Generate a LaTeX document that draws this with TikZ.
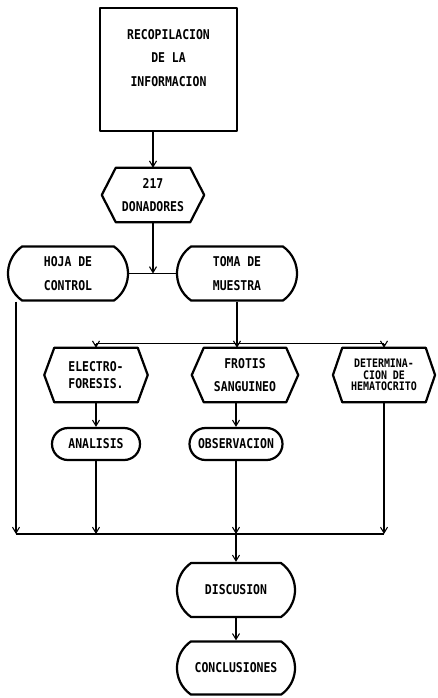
\documentclass[tikz,border=0pt]{standalone}
\usepackage{fontspec}
\usepackage{tikz}
\usetikzlibrary{shapes.misc,arrows.meta}
\newfontfamily\plotfont[FakeStretch=0.85]{DejaVu Sans Mono}
\newcommand\hexframe[2]{\draw[boxline] (#1.north west) -- (#1.north east) -- ([xshift=#2]#1.east) -- (#1.south east) -- (#1.south west) -- ([xshift=-#2]#1.west) -- cycle;}

\begin{document}
\begin{tikzpicture}[x=0.03cm,y=-0.03cm,
  every node/.style={font=\plotfont\bfseries\fontsize{11.5}{20}\selectfont, align=center, inner sep=0pt},
  boxline/.style={line width=1.9pt, line join=round},
  link/.style={line width=0.9pt},
  arrow/.style={link, -{Straight Barb[length=5pt,width=6pt]}},
  mainbox/.style={boxline, draw, rectangle, minimum width=4.11cm, minimum height=3.69cm},
  termbox/.style={boxline, draw, rounded rectangle, rounded rectangle arc length=110, minimum width=#1, minimum height=1.62cm},
  pillbox/.style={boxline, draw, rounded rectangle, minimum width=#1, minimum height=0.96cm},
  hexbox/.style={minimum width=#1, minimum height=1.62cm}]
\useasboundingbox (0,0) rectangle (437,698);

\node[mainbox] (recop) at (168.5,69.5) {RECOPILACION\\DE LA\\INFORMACION\\ \mbox{}};
\node[hexbox=2.22cm] (don) at (153,195) {217\\DONADORES};
\hexframe{don}{0.42cm}

\node[termbox=3.6cm] (hoja) at (68,273.5) {HOJA DE\\CONTROL};
\node[termbox=3.6cm] (toma) at (237,273.5) {TOMA DE\\MUESTRA};

\node[hexbox=2.49cm, align=left, font=\plotfont\bfseries\fontsize{11.5}{15}\selectfont] (elec) at (96,375) {ELECTRO-\\FORESIS.};
\node[hexbox=2.46cm] (frot) at (245,375) {FROTIS\\SANGUINEO};
\node[hexbox=2.49cm, font=\plotfont\bfseries\fontsize{10}{9.6}\selectfont] (det) at (384,375) {DETERMINA-\\CION DE\\HEMATOCRITO};
\hexframe{elec}{0.3cm}
\hexframe{frot}{0.36cm}
\hexframe{det}{0.28cm}

\node[pillbox=2.64cm] (anal) at (96,444) {ANALISIS};
\node[pillbox=2.79cm] (obs) at (236,444) {OBSERVACION};

\node[termbox=3.54cm] (disc) at (236,590) {DISCUSION};
\node[termbox=3.54cm, minimum height=1.59cm] (conc) at (236,668) {CONCLUSIONES};

\draw[arrow] (recop.south -| don.north) -- (don.north);
\draw[link] (hoja.east) -- (toma.west);
\draw[arrow] (don.south) -- (don.south |- hoja.east);

\coordinate (split) at ([yshift=-1.26cm]toma.south);
\draw[link] (toma.south) -- (split);
\draw[link] (split -| elec.north) -- (split -| det.north);
\draw[arrow] (split -| elec.north) -- (elec.north);
\draw[arrow] (split) -- (split |- frot.north);
\draw[arrow] (split -| det.north) -- (det.north);

\draw[arrow] (elec.south) -- (anal.north);
\draw[arrow] (frot.south -| obs.north) -- (obs.north);

\coordinate (merge) at (disc.north |- 0,534);
\coordinate (hleft) at ([xshift=-1.56cm]hoja.south);
\draw[arrow] (hleft) -- (hleft |- merge);
\draw[arrow] (anal.south) -- (anal.south |- merge);
\draw[arrow] (obs.south) -- (obs.south |- merge);
\draw[arrow] (det.south) -- (det.south |- merge);
\draw[link] (hleft |- merge) -- (det.south |- merge);
\draw[arrow] (merge) -- (disc.north);
\draw[arrow] (disc.south) -- (conc.north);
\end{tikzpicture}
\end{document}
